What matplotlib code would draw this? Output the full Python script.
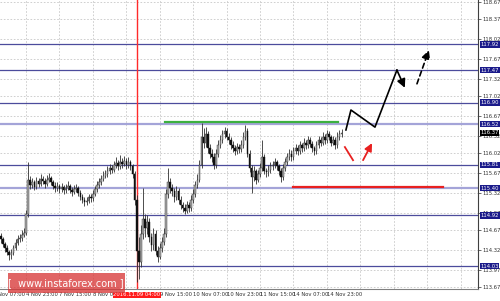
import matplotlib
matplotlib.use("Agg")
import matplotlib.pyplot as plt
from matplotlib.patches import FancyBboxPatch
from matplotlib.transforms import blended_transform_factory
import numpy as np

# ---------------- data ----------------
close = [114.50,114.42,114.35,114.28,114.22,114.26,114.35,114.44,114.50,114.52,
         114.58,114.62,114.95,115.55,115.45,115.50,115.42,115.52,115.48,115.56,
         115.52,115.47,115.55,115.58,115.50,115.44,115.40,115.43,115.38,115.42,
         115.36,115.40,115.44,115.37,115.33,115.38,115.40,115.32,115.25,115.20,
         115.15,115.18,115.24,115.22,115.30,115.38,115.45,115.50,115.56,115.62,
         115.65,115.70,115.75,115.72,115.80,115.84,115.78,115.86,115.82,115.88,
         115.80,115.85,115.78,115.65,115.20,114.30,114.10,114.60,114.85,114.70,
         114.80,114.55,114.40,114.60,114.30,114.20,114.35,114.45,114.60,115.30,
         115.50,115.40,115.35,115.25,115.35,115.20,115.10,115.05,115.00,115.10,
         115.05,115.20,115.30,115.45,115.55,115.80,116.30,116.20,116.35,116.10,
         116.00,115.95,115.80,116.00,116.15,116.25,116.35,116.40,116.30,116.25,
         116.15,116.10,116.05,116.12,116.08,116.15,116.30,116.40,116.00,115.75,
         115.60,115.70,115.55,115.65,115.75,115.95,115.70,115.68,115.72,115.78,
         115.80,115.85,115.78,115.70,115.60,115.75,115.85,115.95,116.00,115.95,
         116.05,116.10,116.05,116.15,116.10,116.20,116.15,116.25,116.18,116.10,
         116.05,116.15,116.25,116.20,116.30,116.25,116.35,116.30,116.20,116.25,
         116.15,116.30,116.35,116.37]
high = [114.62,114.55,114.46,114.40,114.31,114.33,114.40,114.50,114.58,114.60,
        114.66,114.70,115.02,115.86,115.62,115.58,115.55,115.60,115.58,115.64,
        115.62,115.57,115.63,115.66,115.62,115.55,115.50,115.50,115.47,115.49,
        115.46,115.47,115.52,115.48,115.42,115.45,115.47,115.44,115.36,115.30,
        115.24,115.25,115.30,115.29,115.36,115.44,115.52,115.57,115.63,115.70,
        115.72,115.78,115.83,115.80,115.88,115.95,115.90,115.98,115.92,115.97,
        115.93,115.94,115.90,115.82,115.70,115.28,114.55,114.75,115.40,114.95,
        114.92,114.88,114.62,114.70,114.66,114.38,114.44,114.55,114.70,115.38,
        115.75,115.58,115.48,115.40,115.44,115.40,115.26,115.16,115.12,115.18,
        115.16,115.28,115.38,115.52,115.64,115.90,116.54,116.45,116.48,116.40,
        116.18,116.08,116.02,116.08,116.24,116.34,116.42,116.47,116.45,116.36,
        116.30,116.22,116.16,116.20,116.18,116.24,116.38,116.50,116.45,116.06,
        115.80,115.78,115.74,115.72,115.84,116.25,116.00,115.76,115.80,115.85,
        115.88,115.92,115.90,115.82,115.75,115.82,115.92,116.02,116.08,116.06,
        116.12,116.18,116.15,116.22,116.20,116.28,116.25,116.32,116.30,116.22,
        116.14,116.22,116.32,116.30,116.38,116.35,116.42,116.40,116.34,116.32,
        116.30,116.38,116.42,116.44]
low = [114.44,114.37,114.28,114.22,114.13,114.16,114.22,114.31,114.40,114.45,
       114.48,114.54,114.58,114.90,115.38,115.40,115.36,115.38,115.42,115.44,
       115.47,115.41,115.43,115.50,115.45,115.38,115.34,115.35,115.32,115.33,
       115.30,115.31,115.36,115.32,115.27,115.29,115.33,115.27,115.19,115.14,
       115.09,115.10,115.13,115.15,115.18,115.26,115.33,115.40,115.46,115.52,
       115.57,115.60,115.65,115.66,115.68,115.75,115.72,115.74,115.76,115.78,
       115.74,115.76,115.72,115.58,115.10,113.75,113.80,114.02,114.50,114.55,
       114.60,114.45,114.30,114.32,114.22,114.10,114.15,114.28,114.40,114.55,
       115.22,115.32,115.26,115.15,115.20,115.12,115.03,114.98,114.95,114.96,
       114.98,115.00,115.14,115.25,115.40,115.50,115.75,116.10,116.12,116.02,
       115.92,115.86,115.74,115.76,115.95,116.10,116.20,116.28,116.24,116.18,
       116.08,116.04,115.98,116.00,116.02,116.03,116.10,116.25,115.94,115.68,
       115.31,115.52,115.48,115.50,115.60,115.70,115.64,115.60,115.62,115.66,
       115.72,115.75,115.72,115.63,115.50,115.55,115.70,115.80,115.90,115.88,
       115.90,116.00,115.98,116.00,116.04,116.05,116.08,116.10,116.12,116.04,
       115.98,116.00,116.10,116.14,116.15,116.18,116.20,116.24,116.14,116.15,
       116.08,116.10,116.25,116.30]
first_open = 114.56

x_tick_bars = [-4, 12, 28, 44, 76, 92, 108, 124, 140, 156]
x_tick_labels = ["4 Nov 07:00", "4 Nov 23:00", "7 Nov 15:00", "8 Nov 07:00",
                 "9 Nov 15:00", "10 Nov 07:00", "10 Nov 23:00", "11 Nov 15:00",
                 "14 Nov 07:00", "14 Nov 23:00"]
x_grid_bars = [-4, 12, 28, 44, 60, 76, 92, 108, 124, 140, 156, 172, 188, 204, 220]
marker_bar = 65
marker_label = "2016.11.09 04:00"

y_tick_labels = ["118.67", "118.37", "118.02", "117.67", "117.32", "117.02",
                 "116.67", "116.32", "116.02", "115.67", "115.32", "114.97",
                 "114.67", "114.32", "113.97", "113.67"]

levels = [117.92, 117.47, 116.90, 116.52, 115.81, 115.40, 114.92, 114.03]
level_light = [False, False, False, True, False, True, False, False]
current_price = 116.37

resistance = (78.5, 161.3, 116.56)   # x0, x1, price
support = (139.8, 211.5, 115.42)

black_path_x = [165.1, 167.5, 179.0, 189.5, 193.3]
black_path_y = [116.42, 116.77, 116.47, 117.47, 117.16]
dash_arrow = [(199.1, 117.23), (204.8, 117.82)]
red_dash = [(164.6, 116.12), (168.5, 115.89)]
red_arrow = [(173.3, 115.89), (177.6, 116.19)]

# ---------------- figure ----------------
W, H = 500, 301
FS = 3.8
fig = plt.figure(figsize=(W / 100, H / 100), dpi=100)
fig.patch.set_facecolor("white")
ax = fig.add_axes([0, 12 / H, 478 / W, 289 / H])
ax.set_xlim(-0.43, 228.3)
ax.set_ylim(113.63, 118.70)

yt = [float(s) for s in y_tick_labels]
for v in yt:
    ax.axhline(v, color="#c8c8c8", lw=0.6, ls=(0, (2, 2)), zorder=0)
for b in x_grid_bars:
    ax.axvline(b, color="#c8c8c8", lw=0.6, ls=(0, (2, 2)), zorder=0)

for v, light in zip(levels, level_light):
    if light:
        ax.axhline(v, color="#a4a4d8", lw=1.6, zorder=1)
    else:
        ax.axhline(v, color="#4c4c9c", lw=0.9, zorder=1)

# candles
n = len(close)
idx = np.arange(n)
c = np.array(close)
o = np.concatenate([[first_open], c[:-1]])
h = np.array(high)
l = np.array(low)
up = c >= o
ax.vlines(idx, l, h, color="#303030", lw=0.6, zorder=3)
body_lo = np.minimum(o, c)
body_h = np.maximum(np.abs(c - o), 0.012)
ax.bar(idx[up], body_h[up], bottom=body_lo[up], width=0.75,
       color="#a8a8a8", edgecolor="#303030", linewidth=0.3, zorder=4)
ax.bar(idx[~up], body_h[~up], bottom=body_lo[~up], width=0.75,
       color="#101010", edgecolor="#101010", linewidth=0.3, zorder=4)

# vertical marker
ax.axvline(marker_bar, color="#ff2a2a", lw=1.0, zorder=2)

# resistance / support
ax.plot([resistance[0], resistance[1]], [resistance[2]] * 2, color="#3cb040", lw=1.6, zorder=6)
ax.plot([support[0], support[1]], [support[2]] * 2, color="#e82020", lw=1.6, zorder=6)

# forecast arrows
ax.plot(black_path_x[:-1], black_path_y[:-1], color="black", lw=1.2, zorder=7)
ax.annotate("", xy=(black_path_x[-1], black_path_y[-1]),
            xytext=(black_path_x[-2], black_path_y[-2]),
            arrowprops=dict(arrowstyle="-|>,head_length=0.5,head_width=0.25", color="black", lw=1.2,
                            shrinkA=0, shrinkB=0), zorder=7)
ax.annotate("", xy=dash_arrow[1], xytext=dash_arrow[0],
            arrowprops=dict(arrowstyle="-|>,head_length=0.5,head_width=0.25", color="black", lw=1.2,
                            ls=(0, (3, 2)), shrinkA=0, shrinkB=0), zorder=7)
ax.plot([red_dash[0][0], red_dash[1][0]], [red_dash[0][1], red_dash[1][1]],
        color="#e82020", lw=1.3, zorder=7)
ax.annotate("", xy=red_arrow[1], xytext=red_arrow[0],
            arrowprops=dict(arrowstyle="-|>,head_length=0.45,head_width=0.22", color="#e82020", lw=1.3,
                            shrinkA=0, shrinkB=0), zorder=7)

# axes styling
for s in ["top", "left"]:
    ax.spines[s].set_visible(False)
ax.spines["right"].set_color("#404040")
ax.spines["right"].set_linewidth(0.8)
ax.spines["bottom"].set_color("#808080")
ax.spines["bottom"].set_linewidth(0.8)
ax.yaxis.tick_right()
ax.set_yticks(yt)
ax.set_yticklabels(y_tick_labels)
ax.tick_params(axis="y", labelsize=FS, length=2, width=0.5, pad=1.2, colors="#303030")
ax.set_xticks([])

tr = blended_transform_factory(ax.transData, ax.transAxes)
for b, lab in zip(x_tick_bars, x_tick_labels):
    ax.text(b, -0.012, lab, transform=tr, fontsize=FS, ha="left", va="top", color="#303030",
            clip_on=False)
ax.text(marker_bar, -0.012, marker_label, transform=tr, fontsize=FS, ha="center", va="top",
        color="white", clip_on=False, zorder=12,
        bbox=dict(boxstyle="square,pad=0.12", fc="#ff1a1a", ec="none"))

# level label boxes on the right axis
tr2 = blended_transform_factory(ax.transAxes, ax.transData)
for v in levels:
    ax.text(1.005, v, f"{v:.2f}", transform=tr2, fontsize=FS, ha="left", va="center",
            color="white", clip_on=False, zorder=10,
            bbox=dict(boxstyle="square,pad=0.12", fc="#1a1a8a", ec="none"))
ax.text(1.005, current_price, f"{current_price:.2f}", transform=tr2, fontsize=FS, ha="left",
        va="center", color="white", clip_on=False, zorder=10,
        bbox=dict(boxstyle="square,pad=0.12", fc="black", ec="none"))

# watermark
wm = FancyBboxPatch((8 / W, 1 - 293 / H), 117 / W, 20 / H, boxstyle="square,pad=0",
                    transform=fig.transFigure, fc="#d83838", ec="none", alpha=0.78, zorder=20)
fig.patches.append(wm)
fig.text(66 / W, 1 - 283 / H, "[  www.instaforex.com ]", color="white", fontsize=7.0,
         ha="center", va="center", zorder=21)

fig.savefig("out.png", dpi=100)
